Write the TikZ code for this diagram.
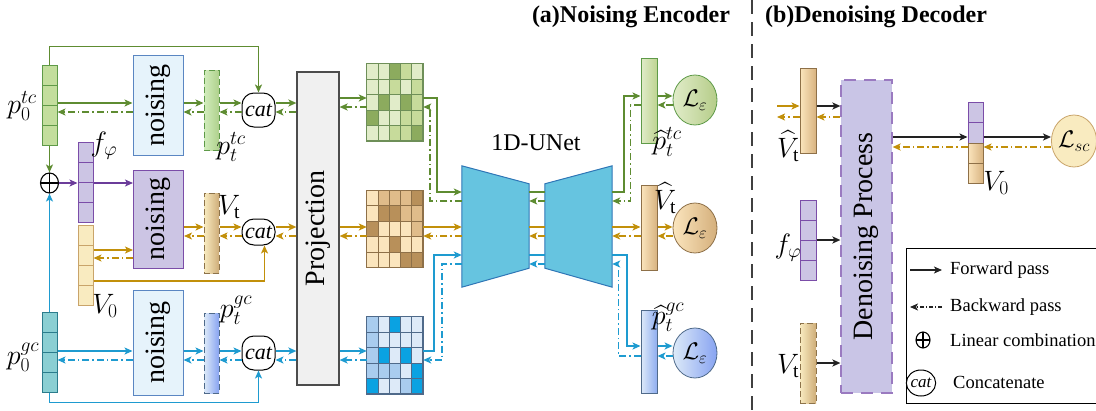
\RequirePackage{fix-cm}
\documentclass[tikz,border=0pt]{standalone}
\usepackage{amsmath}
\usepackage{graphicx}
\usepackage{fontspec}
\setmainfont{Liberation Serif}
\usepackage{tikz}
\usetikzlibrary{arrows.meta,calc,shapes.geometric}

\definecolor{gline}{HTML}{5E8C31}
\definecolor{oline}{HTML}{C2900A}
\definecolor{bline}{HTML}{1E9BD0}
\definecolor{pline}{HTML}{6B3C9A}
\definecolor{kline}{HTML}{222222}
\definecolor{gfill}{HTML}{C3DE9D}
\definecolor{gdraw}{HTML}{5E9A48}
\definecolor{ofill}{HTML}{F9EBC0}
\definecolor{odraw}{HTML}{C9A46A}
\definecolor{tfill}{HTML}{8ACFD3}
\definecolor{tdraw}{HTML}{2B7C8C}
\definecolor{pfill}{HTML}{CCC5E4}
\definecolor{pdraw}{HTML}{7B4DA8}
\definecolor{nfill}{HTML}{E6F3FB}
\definecolor{ndraw}{HTML}{5A86C2}
\definecolor{ufill}{HTML}{66C4E0}
\definecolor{udraw}{HTML}{2F76B6}
\definecolor{procfill}{HTML}{C9C5E6}
\definecolor{procdraw}{HTML}{9A7AC0}
% grid colours
\definecolor{gg0}{HTML}{E1ECC9}
\definecolor{gg1}{HTML}{C7DB9B}
\definecolor{gg2}{HTML}{8CAB5E}
\definecolor{gge}{HTML}{6E8F58}
\definecolor{bg0}{HTML}{FBE5BD}
\definecolor{bg1}{HTML}{E0BC8A}
\definecolor{bg2}{HTML}{B8905A}
\definecolor{bge}{HTML}{8E7048}
\definecolor{cg0}{HTML}{DDEAF8}
\definecolor{cg1}{HTML}{A9CCEE}
\definecolor{cg2}{HTML}{0AA2E2}
\definecolor{cge}{HTML}{4F6A8A}

\tikzset{
  fwd/.style={->,line width=1.8pt},
  bwd/.style={->,line width=1.5pt,dash pattern=on 7pt off 3pt on 1.5pt off 3pt},
  cells/.style 2 args={path picture={
      \foreach \k in {1,...,#1}
        \draw[#2,line width=1pt]
          ($(path picture bounding box.north west)!{\k/(#1+1)}!(path picture bounding box.south west)$) --
          ($(path picture bounding box.north east)!{\k/(#1+1)}!(path picture bounding box.south east)$);}},
  col/.style={draw,line width=1pt,minimum width=15,minimum height=80,inner sep=0},
  bar/.style={draw,line width=1pt,minimum width=15,minimum height=80,inner sep=0},
  dashbar/.style={bar,dash pattern=on 6pt off 3pt},
  outbar/.style={draw,line width=1pt,minimum width=16,minimum height=85,inner sep=0},
  noisebox/.style={draw,line width=1pt,minimum width=50,inner sep=0,font=\fontsize{28}{30}\selectfont},
  projbox/.style={draw=black!70,fill=black!6,line width=1.2pt,minimum width=42,minimum height=313,
    inner sep=0,font=\fontsize{28}{30}\selectfont},
  catnode/.style={draw,fill=white,line width=1pt,rounded corners=12pt,minimum width=33,inner sep=0,
    font=\fontsize{22}{24}\selectfont\itshape},
  oplus/.style={draw,fill=white,ellipse,line width=1.1pt,minimum width=18,minimum height=20,inner sep=0,
    path picture={\draw[line width=1.1pt] (path picture bounding box.north) -- (path picture bounding box.south)
      (path picture bounding box.west) -- (path picture bounding box.east);}},
  loss/.style={draw,ellipse,line width=0.8pt,minimum width=44,minimum height=50,inner sep=0,
    font=\fontsize{24}{26}\selectfont},
  lbl/.style={inner sep=0,font=\fontsize{28}{30}\selectfont},
  title/.style={inner sep=0,font=\fontsize{24}{26}\selectfont\bfseries},
  legtext/.style={inner sep=0,anchor=west,font=\fontsize{18.5}{20}\selectfont},
  unet/.style={fill=ufill,draw=udraw,line width=1pt},
}

% 5x5 feature grid on an empty node
\newcommand{\heatgrid}[3]{%
  \foreach \v [count=\i from 0] in {#3} {
    \pgfmathtruncatemacro{\gr}{\i/5}
    \pgfmathtruncatemacro{\gc}{mod(\i,5)}
    \draw[fill=#2\v,draw=#2e,line width=0.8pt]
      ([xshift=\gc*11.2pt,yshift=-\gr*15.4pt]#1.north west) rectangle ++(11.2,15.4);
  }
  \draw[#2e,line width=1.2pt] (#1.north west) rectangle (#1.south east);
}

\begin{document}
\begin{tikzpicture}[x=1pt,y=-1pt,>={Stealth[length=8pt,width=7pt,inset=2pt]}]
  \useasboundingbox (0,0) rectangle (1096,410);

  \node[title] (titA) at (631,17) {(a)Noising Encoder};
  \node[title] (titB) at (876,17) {(b)Denoising Decoder};
  \draw[black!75,line width=2pt,dash pattern=on 14pt off 8pt] (752,0) -- (752,410);

  % levels of the arrows
  \coordinate (tcF) at (0,103);
  \coordinate (tcB) at (0,112);
  \coordinate (tcF2) at (0,98);
  \coordinate (tcB2) at (0,107);
  \coordinate (uF1) at (0,192);
  \coordinate (uB1) at (0,201);
  \coordinate (oF1) at (0,96);
  \coordinate (oB1) at (0,105);
  \coordinate (mF) at (0,227);
  \coordinate (mB) at (0,236);
  \coordinate (vF) at (0,250);
  \coordinate (vB) at (0,258);
  \coordinate (vL) at (0,281);
  \coordinate (gcF) at (0,351);
  \coordinate (gcB) at (0,360);
  \coordinate (uF3) at (0,255);
  \coordinate (uB3) at (0,264);
  \coordinate (oF3) at (0,346);
  \coordinate (oB3) at (0,356);

  % inputs
  \node[col,fill=gfill,draw=gdraw,cells={3}{gdraw}] (p0tc) at (49.5,105) {};
  \node[col,fill=pfill,draw=pdraw,cells={3}{pdraw}] (fphi) at (85.5,182) {};
  \node[col,fill=ofill,draw=odraw,cells={3}{odraw}] (V0) at (85.5,265) {};
  \node[col,fill=tfill,draw=tdraw,cells={3}{tdraw}] (p0gc) at (49.5,352) {};
  \node[oplus] (comb) at (49.5,183) {};

  \node[lbl] (lp0tc) at (22,106) {$p_0^{tc}$};
  \node[lbl] (lfphi) at (104,146) {$f_\varphi$};
  \node[lbl] (lV0) at (105,306) {$V_0$};
  \node[lbl] (lp0gc) at (23,357) {$p_0^{gc}$};

  % noising
  \node[noisebox,fill=nfill,draw=ndraw,minimum height=100] (noiseA) at (158,105.5) {\rotatebox{90}{noising}};
  \node[noisebox,fill=pfill,draw=pdraw,minimum height=98] (noiseB) at (158.5,219) {\rotatebox{90}{noising}};
  \node[noisebox,fill=nfill,draw=ndraw,minimum height=105] (noiseC) at (158,342.5) {\rotatebox{90}{noising}};

  \node[dashbar,left color=green!8!gfill!60,right color=gfill!80!gdraw,draw=gdraw] (ptc) at (211.5,110.5) {};
  \node[dashbar,left color=ofill,right color=odraw!90,draw=odraw!70!black] (Vt) at (211.5,233) {};
  \node[dashbar,left color=cg0,right color=cg1!80!blue,draw=cge] (pgc) at (211.5,353) {};
  \node[lbl] (lptc) at (231,147) {$p_t^{tc}$};
  \node[lbl] (lVt) at (229,207) {$V_{\mathrm{t}}$};
  \node[lbl] (lpgc) at (236,310) {$p_t^{gc}$};

  \node[catnode,minimum height=34] (catA) at (258.5,110) {cat};
  \node[catnode,minimum height=26] (catB) at (258.5,232) {cat};
  \node[catnode,minimum height=34] (catC) at (258.5,353) {cat};

  \node[projbox] (proj) at (318,228.5) {\rotatebox{90}{Projection}};

  % feature grids
  \node[minimum width=56,minimum height=77,inner sep=0] (gridA) at (395,102.5) {};
  \node[minimum width=56,minimum height=77,inner sep=0] (gridB) at (395,229) {};
  \node[minimum width=56,minimum height=77,inner sep=0] (gridC) at (395,355.5) {};
  \heatgrid{gridA}{gg}{0,0,2,1,0, 0,0,1,0,1, 0,2,0,2,1, 2,0,0,1,1, 0,0,1,1,2}
  \heatgrid{gridB}{bg}{0,1,1,1,2, 0,2,2,1,1, 2,0,0,0,1, 0,0,2,0,0, 0,0,0,2,2}
  \heatgrid{gridC}{cg}{1,0,2,0,0, 1,0,0,0,0, 1,2,0,2,0, 1,1,1,0,2, 2,0,0,1,2}

  % 1D-UNet
  \node[minimum width=67,minimum height=121,inner sep=0] (unetL) at (495.5,226.5) {};
  \node[minimum width=67,minimum height=121,inner sep=0] (unetR) at (578.5,226.5) {};
  \draw[unet] (unetL.north west) -- ([yshift=-18pt]unetL.north east) -- ([yshift=19pt]unetL.south east)
    -- (unetL.south west) -- cycle;
  \draw[unet] ([yshift=-18pt]unetR.north west) -- (unetR.north east) -- (unetR.south east)
    -- ([yshift=19pt]unetR.south west) -- cycle;
  \node[inner sep=0,font=\fontsize{24}{26}\selectfont] (unetlbl) at (536,143) {1D-UNet};

  % outputs
  \node[outbar,left color=gg0,right color=gg1!85!gg2,draw=gdraw] (outA) at (649,100.5) {};
  \node[outbar,left color=bg0,right color=bg1!80!bg2,draw=bge] (outB) at (649,227.5) {};
  \node[outbar,minimum height=83,left color=cg0,right color=cg1!85!blue,draw=cge] (outC) at (649,351.5) {};
  \node[loss,left color=gg0,right color=gg1!70!gg2,draw=gdraw] (lossA) at (695,100) {$\mathcal{L}_\varepsilon$};
  \node[loss,left color=bg0,right color=bg1!70!bg2,draw=bge] (lossB) at (695,228) {$\mathcal{L}_\varepsilon$};
  \node[loss,left color=cg0,right color=cg1!80!blue,draw=cge] (lossC) at (695,353) {$\mathcal{L}_\varepsilon$};
  \node[lbl] (lphtc) at (667,142) {$\widehat{p}_t^{tc}$};
  \node[lbl] (lVhat) at (665,198) {$\widehat{V}_{\mathrm{t}}$};
  \node[lbl] (lphgc) at (668,317) {$\widehat{p}_t^{gc}$};

  % encoder connectors
  \draw[fwd,gline] (p0tc.north) -- ++(0,-18) -| (catA.north);
  \draw[fwd,gline] (p0tc.south) -- (comb.north);
  \draw[fwd,bline] (p0gc.north) -- (comb.south);
  \draw[fwd,pline] (comb.east) -- (fphi.west |- comb.east);
  \draw[fwd,pline] (fphi.east |- comb.east) -- (noiseB.west |- comb.east);
  \draw[fwd,bline] (p0gc.south) -- ++(0,10) -| (catC.south);
  \draw[fwd,oline] (V0.east |- vL) -| ([xshift=6pt]catB.south);

  \draw[fwd,gline] (p0tc.east |- tcF) -- (noiseA.west |- tcF);
  \draw[bwd,gline] (noiseA.west |- tcB) -- (p0tc.east |- tcB);
  \draw[fwd,gline] (noiseA.east |- tcF) -- (ptc.west |- tcF);
  \draw[bwd,gline] (ptc.west |- tcB) -- (noiseA.east |- tcB);
  \draw[fwd,gline] (ptc.east |- tcF) -- (catA.west |- tcF);
  \draw[bwd,gline] (catA.west |- tcB) -- (ptc.east |- tcB);
  \draw[fwd,gline] (catA.east |- tcF) -- (proj.west |- tcF);
  \draw[bwd,gline] (proj.west |- tcB) -- (catA.east |- tcB);
  \draw[fwd,gline] (proj.east |- tcF2) -- (gridA.west |- tcF2);
  \draw[bwd,gline] (gridA.west |- tcB2) -- (proj.east |- tcB2);

  \draw[fwd,oline] (V0.east |- vF) -- (noiseB.west |- vF);
  \draw[bwd,oline] (noiseB.west |- vB) -- (V0.east |- vB);
  \draw[fwd,oline] (noiseB.east |- mF) -- (Vt.west |- mF);
  \draw[bwd,oline] (Vt.west |- mB) -- (noiseB.east |- mB);
  \draw[fwd,oline] (Vt.east |- mF) -- (catB.west |- mF);
  \draw[bwd,oline] (catB.west |- mB) -- (Vt.east |- mB);
  \draw[fwd,oline] (catB.east |- mF) -- (proj.west |- mF);
  \draw[bwd,oline] (proj.west |- mB) -- (catB.east |- mB);
  \draw[fwd,oline] (proj.east |- mF) -- (gridB.west |- mF);
  \draw[bwd,oline] (gridB.west |- mB) -- (proj.east |- mB);

  \draw[fwd,bline] (p0gc.east |- gcF) -- (noiseC.west |- gcF);
  \draw[bwd,bline] (noiseC.west |- gcB) -- (p0gc.east |- gcB);
  \draw[fwd,bline] (noiseC.east |- gcF) -- (pgc.west |- gcF);
  \draw[bwd,bline] (pgc.west |- gcB) -- (noiseC.east |- gcB);
  \draw[fwd,bline] (pgc.east |- gcF) -- (catC.west |- gcF);
  \draw[bwd,bline] (catC.west |- gcB) -- (pgc.east |- gcB);
  \draw[fwd,bline] (catC.east |- gcF) -- (proj.west |- gcF);
  \draw[bwd,bline] (proj.west |- gcB) -- (catC.east |- gcB);
  \draw[fwd,bline] (proj.east |- gcF) -- (gridC.west |- gcF);
  \draw[bwd,bline] (gridC.west |- gcB) -- (proj.east |- gcB);

  % grids to 1D-UNet and out
  \draw[fwd,gline] (gridA.east |- tcF2) -- ++(14,0) |- (unetL.west |- uF1);
  \draw[bwd,gline] (unetL.west |- uB1) -- ++(-32,0) |- (gridA.east |- tcB2);
  \draw[gline,line width=1.8pt] (unetL.east |- uF1) -- (unetR.west |- uF1);
  \draw[bwd,gline] (unetR.west |- uB1) -- (unetL.east |- uB1);
  \draw[fwd,gline] (unetR.east |- uF1) -- ++(12,0) |- (outA.west |- oF1);
  \draw[bwd,gline] (outA.west |- oB1) -- ++(-10,0) |- (unetR.east |- uB1);
  \draw[fwd,gline] (outA.east |- oF1) -- (lossA.west |- oF1);
  \draw[bwd,gline] (lossA.west |- oB1) -- (outA.east |- oB1);

  \draw[fwd,oline] (gridB.east |- mF) -- (unetL.west |- mF);
  \draw[bwd,oline] (unetL.west |- mB) -- (gridB.east |- mB);
  \draw[oline,line width=1.8pt] (unetL.east |- mF) -- (unetR.west |- mF);
  \draw[bwd,oline] (unetR.west |- mB) -- (unetL.east |- mB);
  \draw[fwd,oline] (unetR.east |- mF) -- (outB.west |- mF);
  \draw[bwd,oline] (outB.west |- mB) -- (unetR.east |- mB);
  \draw[fwd,oline] (outB.east |- mF) -- (lossB.west |- mF);
  \draw[bwd,oline] (lossB.west |- mB) -- (outB.east |- mB);

  \draw[fwd,bline] (gridC.east |- gcF) -- ++(11,0) |- (unetL.west |- uF3);
  \draw[bwd,bline] (unetL.west |- uB3) -- ++(-20,0) |- (gridC.east |- gcB);
  \draw[bline,line width=1.8pt] (unetL.east |- uF3) -- (unetR.west |- uF3);
  \draw[bwd,bline] (unetR.west |- uB3) -- (unetL.east |- uB3);
  \draw[fwd,bline] (unetR.east |- uF3) -- ++(15,0) |- (outC.west |- oF3);
  \draw[bwd,bline] (outC.west |- oB3) -- ++(-22,0) |- (unetR.east |- uB3);
  \draw[fwd,bline] (outC.east |- oF3) -- (lossC.west |- oF3);
  \draw[bwd,bline] (lossC.west |- oB3) -- (outC.east |- oB3);

  % decoder
  \coordinate (dinF) at (777,106);
  \coordinate (dinB) at (777,117);
  \coordinate (dF) at (0,137);
  \coordinate (dB) at (0,147);
  \node[outbar,left color=bg0,right color=bg1!80!bg2,draw=bge] (dVhat) at (808,110.5) {};
  \node[col,minimum width=16,fill=pfill,draw=pdraw,cells={3}{pdraw}] (dfphi) at (808,240) {};
  \node[dashbar,minimum width=16,left color=ofill,right color=odraw!90,draw=odraw!70!black] (dVt) at (808,363) {};
  \node[draw=procdraw,fill=procfill,line width=1.2pt,dash pattern=on 12pt off 8pt,minimum width=51,
    minimum height=313,inner sep=0,font=\fontsize{28}{30}\selectfont] (dproc) at (866.5,236.5) {\rotatebox{90}{Denoising Process}};
  \node[col,minimum height=41,fill=pfill,draw=pdraw,cells={1}{pdraw}] (dV0a) at (975.5,122.5) {};
  \node[col,minimum height=40,left color=bg0,right color=bg1!80!bg2,draw=bge,cells={1}{bge}] (dV0b) at (975.5,163) {};
  \node[loss,minimum height=52,fill=ofill,draw=odraw] (lossD) at (1074,141) {$\mathcal{L}_{sc}$};
  \node[lbl] (ldVhat) at (788,146) {$\widehat{V}_{\mathrm{t}}$};
  \node[lbl] (ldfphi) at (788,248) {$f_\varphi$};
  \node[lbl] (ldVt) at (788,366) {$V_{\mathrm{t}}$};
  \node[lbl] (ldV0) at (996,183) {$V_0$};

  \draw[fwd,oline] (dinF) -- (dVhat.west |- dinF);
  \draw[bwd,oline] (dVhat.west |- dinB) -- (dinB);
  \draw[fwd,kline] (dVhat.east |- dinF) -- (dproc.west |- dinF);
  \draw[bwd,oline] (dproc.west |- dinB) -- (dVhat.east |- dinB);
  \draw[fwd,kline] (dproc.east |- dF) -- (dV0a.west |- dF);
  \draw[bwd,oline] (dV0b.west |- dB) -- (dproc.east |- dB);
  \draw[fwd,kline] (dV0a.east |- dF) -- (lossD.west |- dF);
  \draw[bwd,oline] (lossD.west |- dB) -- (dV0b.east |- dB);
  \draw[fwd,kline] (dfphi.east) -- (dproc.west |- dfphi.east);
  \draw[fwd,kline] (dVt.east) -- (dproc.west |- dVt.east);

  % legend
  \node[draw,line width=1pt,minimum width=194,minimum height=155,inner sep=0] (legend) at (1003,325.5) {};
  \node[legtext] (lgF) at (950,270) {Forward pass};
  \node[legtext] (lgB) at (950,307) {Backward pass};
  \node[legtext] (lgL) at (950,340) {Linear combination};
  \node[legtext] (lgC) at (953,382) {Concatenate};
  \draw[->,line width=1.2pt,kline] ([xshift=-40pt]lgF.west) -- ([xshift=-8pt]lgF.west);
  \draw[->,line width=1.2pt,kline,dash pattern=on 4pt off 2pt on 1pt off 2pt] ([xshift=-8pt]lgB.west) -- ([xshift=-40pt]lgB.west);
  \node[oplus,minimum width=14,minimum height=16] (lgO) at (923,340) {};
  \node[draw,ellipse,line width=1pt,inner sep=0,minimum width=23,minimum height=26,
    font=\fontsize{17}{19}\selectfont\itshape] (lgCat) at (921,383) {cat};
\end{tikzpicture}
\end{document}
